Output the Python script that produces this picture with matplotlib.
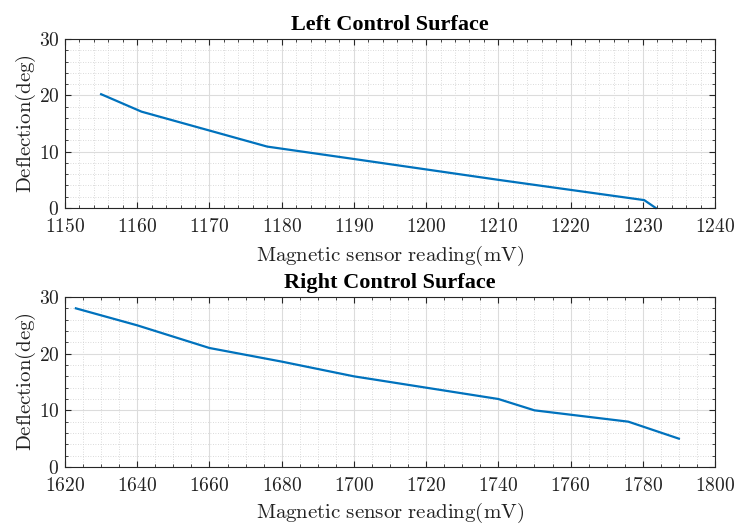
import matplotlib
matplotlib.use("Agg")
import matplotlib.pyplot as plt
from matplotlib.ticker import MultipleLocator, FuncFormatter

# ----------------------------------------
# Data
# ----------------------------------------

left_mv = [1155, 1160.6, 1178, 1190, 1210, 1230.2, 1231.8]
left_deg = [20.2, 17.1, 10.9, 8.7, 5.0, 1.4, 0.0]

right_mv = [1623, 1640, 1660, 1680, 1700, 1720, 1740, 1750, 1776, 1790]
right_deg = [28, 25, 21, 18.6, 16, 14, 12, 10, 8, 5]

plt.rcParams['font.family'] = ['Liberation Serif', 'DejaVu Serif']
plt.rcParams['mathtext.fontset'] = 'cm'

LINE = '#0072BD'
EDGE = '#262626'

fig = plt.figure(figsize=(7.37, 5.24), dpi=100)
ax1 = fig.add_axes([65 / 737, 1 - 208 / 524, 650 / 737, 169 / 524])
ax2 = fig.add_axes([65 / 737, 1 - 467 / 524, 650 / 737, 170 / 524])

cm_fmt = FuncFormatter(lambda v, pos: r'$%d$' % round(v))


def style(ax, title, xlim, xmaj, xmin, xpad):
    ax.set_xlim(*xlim)
    ax.set_ylim(0, 30)
    ax.xaxis.set_major_locator(MultipleLocator(xmaj))
    ax.xaxis.set_minor_locator(MultipleLocator(xmin))
    ax.yaxis.set_major_locator(MultipleLocator(10))
    ax.yaxis.set_minor_locator(MultipleLocator(2))
    ax.xaxis.set_major_formatter(cm_fmt)
    ax.yaxis.set_major_formatter(cm_fmt)
    ax.grid(True, which='major', color='#dcdcdc', linewidth=0.8)
    ax.grid(True, which='minor', color='#cfcfcf', linewidth=0.6, linestyle=(0, (1, 2)))
    ax.set_axisbelow(True)
    ax.tick_params(which='both', direction='in', top=True, right=True,
                   colors=EDGE, labelcolor='#222222', labelsize=14)
    ax.tick_params(which='major', length=4, width=0.8)
    ax.tick_params(axis='x', which='major', pad=7)
    ax.tick_params(axis='y', which='major', pad=4)
    ax.tick_params(which='minor', length=2.2, width=0.6)
    for s in ax.spines.values():
        s.set_color(EDGE)
        s.set_linewidth(0.8)
    ax.set_title(title, fontsize=16, fontweight='bold', pad=6.5)
    ax.set_xlabel(r'$\mathrm{Magnetic\ sensor\ reading(mV)}$', fontsize=15,
                  labelpad=xpad, color='#222222')
    ax.set_ylabel(r'$\mathrm{Deflection(deg)}$', fontsize=15, labelpad=0.5,
                  color='#222222')


ax1.plot(left_mv, left_deg, color=LINE, linewidth=1.6, clip_on=False)
style(ax1, 'Left Control Surface', (1150, 1240), 10, 2, 6)

ax2.plot(right_mv, right_deg, color=LINE, linewidth=1.6)
style(ax2, 'Right Control Surface', (1620, 1800), 20, 5, 4.5)

fig.savefig('out.png', dpi=100)
